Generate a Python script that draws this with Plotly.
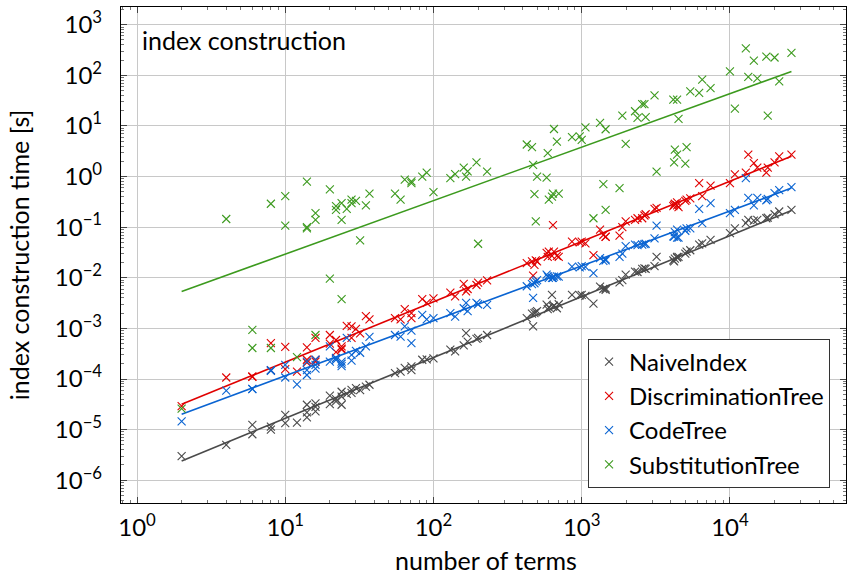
import numpy as np
import plotly.graph_objects as go

terms = [2, 4, 6, 6, 8, 8, 10, 10, 12, 14,
         14, 14, 16, 16, 16, 20, 20, 22, 22, 24,
         24, 24, 26, 28, 28, 30, 32, 35, 37, 55,
         60, 64, 71, 71, 84, 90, 100, 130, 140, 160,
         166, 170, 195, 200, 230, 426, 462, 470, 480, 490,
         500, 580, 590, 600, 630, 640, 650, 680, 700, 860,
         970, 1000, 1060, 1200, 1330, 1400, 1450, 1450, 1800, 1880,
         1980, 2290, 2380, 2560, 2650, 2700, 3100, 3200, 4150, 4200,
         4250, 4400, 4400, 4500, 5000, 5100, 5400, 6200, 6500, 7400,
         10000, 10800, 12800, 13300, 14500, 15300, 17600, 18000, 20000, 21500, 26000]

naive_index = [3.0e-6, 5.0e-6, 1.24e-5, 8.1e-6, 1.15e-5, 1.0e-5, 1.95e-5, 1.35e-5, 1.38e-5, 3.1e-5,
               1.74e-5, 2.2e-5, 3.3e-5, 2.3e-5, 2.8e-5, 4.7e-5, 3.2e-5, 4.0e-5, 3.6e-5, 3.1e-5,
               5.6e-5, 4.5e-5, 5.1e-5, 6.1e-5, 5.3e-5, 6.6e-5, 6.0e-5, 7.1e-5, 7.7e-5, 1.3e-4,
               1.4e-4, 1.66e-4, 1.5e-4, 1.77e-4, 2.4e-4, 2.45e-4, 2.56e-4, 3.8e-4, 3.5e-4, 4.6e-4,
               8.1e-4, 5.5e-4, 6.2e-4, 6.5e-4, 7.4e-4, 1.6e-3, 1.95e-3, 1.1e-3, 2.0e-3, 2.1e-3,
               2.2e-3, 2.95e-3, 2.4e-3, 2.6e-3, 4.6e-3, 2.7e-3, 2.8e-3, 2.5e-3, 3.0e-3, 4.6e-3,
               4.5e-3, 4.6e-3, 4.4e-3, 3.1e-3, 6.7e-3, 6.0e-3, 6.2e-3, 5.8e-3, 8.1e-3, 9.0e-3,
               1.15e-2, 1.32e-2, 1.3e-2, 1.5e-2, 1.54e-2, 1.5e-2, 1.7e-2, 2.6e-2, 2.2e-2, 2.1e-2,
               2.4e-2, 2.6e-2, 2.5e-2, 2.6e-2, 3.0e-2, 3.3e-2, 3.5e-2, 4.5e-2, 4.8e-2, 5.6e-2,
               7.6e-2, 0.095, 0.12, 0.14, 0.135, 0.14, 0.15, 0.155, 0.18, 0.204, 0.22]

discrimination_tree = [2.9e-5, 1.07e-4, 1.12e-4, 1.1e-4, 5.1e-4, 1.48e-4, 4.3e-4, 1.57e-4, 1.4e-4, 4.2e-4,
                       2.1e-4, 2.4e-4, 6.5e-4, 2.4e-4, 2.2e-4, 7.4e-4, 5.0e-4, 5.9e-4, 3.4e-4, 4.4e-4,
                       3.8e-4, 4.0e-4, 1.12e-3, 1.1e-3, 6.5e-4, 9.8e-4, 8.0e-4, 1.74e-3, 1.5e-3, 1.6e-3,
                       1.5e-3, 2.4e-3, 1.6e-3, 2.0e-3, 3.8e-3, 3.2e-3, 3.9e-3, 5.1e-3, 4.3e-3, 7.6e-3,
                       5.4e-3, 6.0e-3, 7.2e-3, 8.0e-3, 8.9e-3, 1.95e-2, 2.1e-2, 1.1e-2, 1.8e-2, 2.2e-2,
                       2.1e-2, 3.1e-2, 2.6e-2, 3.3e-2, 2.7e-2, 0.11, 3.3e-2, 2.7e-2, 2.6e-2, 5.2e-2,
                       5.0e-2, 5.2e-2, 4.8e-2, 2.8e-2, 8.9e-2, 7.0e-2, 6.5e-2, 6.4e-2, 6.8e-2, 0.10,
                       0.13, 0.14, 0.15, 0.15, 0.17, 0.18, 0.23, 0.24, 0.26, 0.275,
                       0.29, 0.31, 0.27, 0.25, 0.33, 0.35, 0.37, 0.74, 0.41, 0.66,
                       0.74, 1.1, 1.2, 2.7, 1.85, 1.5, 1.2, 1.5, 1.9, 2.5, 2.7]

code_tree = [1.45e-5, 5.9e-5, 6.3e-5, 6.4e-5, 1.5e-4, 1.45e-4, 1.07e-4, 1.9e-4, 7.8e-5, 1.2e-4,
             2.2e-4, 1.5e-4, 1.6e-4, 2.4e-4, 1.9e-4, 4.4e-4, 2.2e-4, 2.6e-4, 2.4e-4, 2.0e-4,
             1.8e-4, 2.2e-4, 6.5e-4, 2.3e-4, 3.0e-4, 3.6e-4, 3.3e-4, 4.4e-4, 6.8e-4, 7.4e-4,
             6.9e-4, 1.1e-3, 5.1e-4, 9.0e-4, 1.85e-3, 1.5e-3, 1.6e-3, 2.0e-3, 1.7e-3, 2.5e-3,
             3.2e-3, 2.2e-3, 3.2e-3, 3.0e-3, 2.9e-3, 6.8e-3, 7.5e-3, 4.0e-3, 7.8e-3, 8.5e-3,
             9.0e-3, 1.15e-2, 1.07e-2, 1.0e-2, 1.0e-2, 1.0e-2, 1.05e-2, 1.07e-2, 1.05e-2, 1.66e-2,
             1.6e-2, 1.7e-2, 1.65e-2, 1.23e-2, 2.45e-2, 2.15e-2, 2.3e-2, 2.2e-2, 2.6e-2, 3.0e-2,
             4.2e-2, 4.5e-2, 4.4e-2, 4.5e-2, 4.6e-2, 4.7e-2, 6.0e-2, 0.107, 6.6e-2, 6.5e-2,
             8.0e-2, 8.9e-2, 6.2e-2, 6.2e-2, 8.5e-2, 9.5e-2, 9.5e-2, 0.23, 0.12, 0.30,
             0.19, 0.22, 0.93, 0.38, 0.27, 0.38, 0.34, 0.36, 0.47, 0.54, 0.62]

substitution_tree = [2.6e-5, 0.145, 9.3e-4, 4.1e-4, 0.29, 4.1e-4, 0.41, 0.107, 2.7e-4, 0.79,
                     0.10, 0.095, 0.19, 7.4e-4, 0.14, 0.56, 9.6e-3, 0.26, 0.22, 0.30,
                     3.8e-3, 0.14, 0.23, 0.35, 0.30, 0.33, 0.055, 0.27, 0.46, 0.46,
                     0.35, 0.87, 0.74, 0.80, 1.0, 1.2, 0.49, 0.93, 1.12, 1.5,
                     1.0, 1.26, 1.9, 0.047, 1.25, 4.3, 3.8, 1.7, 0.45, 0.13,
                     1.0, 0.95, 2.9, 0.35, 0.40, 0.46, 8.7, 4.9, 0.46, 6.0,
                     6.2, 5.3, 9.4, 0.15, 11.5, 0.71, 8.6, 0.22, 0.59, 16,
                     4.4, 19.5, 14.5, 27, 27, 15, 40, 1.25, 33, 1.9,
                     3.4, 33, 2.7, 13.8, 1.8, 3.8, 48, 45, 82, 56,
                     120, 22, 340, 93, 195, 87, 235, 16, 225, 76, 277]

series_names = ["NaiveIndex", "DiscriminationTree", "CodeTree", "SubstitutionTree"]
series_values = [naive_index, discrimination_tree, code_tree, substitution_tree]
series_colors = ["#4a4a4a", "#e00000", "#0a64d2", "#3c9a1e"]
# power-law fits: log10(t) = intercept + slope * log10(n)
fit_slopes = [1.203, 1.191, 1.086, 1.057]
fit_intercepts = [-5.981, -4.857, -5.023, -2.59]

x_tick_exponents = [0, 1, 2, 3, 4]
y_tick_exponents = [-6, -5, -4, -3, -2, -1, 0, 1, 2, 3]


def power_label(k):
    return "10<sup>" + str(k).replace("-", "\u2212") + "</sup>"


FONT = "Lato"
TICK_SIZE = 24
TEXT_SIZE = 25
LEGEND_SIZE = 24
fig = go.Figure()

xfit = np.logspace(np.log10(min(terms)), np.log10(max(terms)), 20)
for name, vals, col, s, b in zip(series_names, series_values, series_colors, fit_slopes, fit_intercepts):
    fig.add_trace(go.Scatter(
        x=terms, y=vals, mode="markers", name=name,
        marker=dict(symbol="x-thin", size=8, color=col, line=dict(width=1.1, color=col)),
    ))
    fig.add_trace(go.Scatter(
        x=xfit, y=10 ** (b + s * np.log10(xfit)), mode="lines", showlegend=False,
        line=dict(color=col, width=1.6), hoverinfo="skip",
    ))

axis_common = dict(
    type="log", showline=True, linecolor="black", linewidth=1.2, mirror="allticks",
    ticks="inside", ticklen=6, tickcolor="#444", tickwidth=1,
    showgrid=True, gridcolor="#c8c8c8", gridwidth=1, zeroline=False,
    tickmode="array",
    minor=dict(ticks="inside", ticklen=3, tickcolor="#777", showgrid=False, dtick="D1"),
    tickfont=dict(family=FONT, size=TICK_SIZE, color="black"),
)

fig.update_xaxes(**axis_common, range=[-0.108, 4.783],
                 tickvals=[10 ** k for k in x_tick_exponents],
                 ticktext=[power_label(k) for k in x_tick_exponents],
                 ticklabelstandoff=3)
fig.update_yaxes(**axis_common, range=[-6.45, 3.35],
                 tickvals=[10.0 ** k for k in y_tick_exponents],
                 ticktext=[power_label(k) for k in y_tick_exponents],
                 title=dict(text="index construction time [s]", font=dict(family=FONT, size=TEXT_SIZE, color="black"), standoff=18),
                 ticklabelstandoff=13)

fig.add_annotation(text="number of terms", xref="paper", yref="paper", x=0.503, y=-0.149,
                   xanchor="center", yanchor="bottom", showarrow=False,
                   font=dict(family=FONT, size=TEXT_SIZE, color="black"))

fig.add_annotation(text="index construction", xref="paper", yref="paper", x=0.026, y=0.933,
                   xanchor="left", yanchor="middle", showarrow=False,
                   font=dict(family=FONT, size=TEXT_SIZE, color="black"))

fig.update_layout(
    width=851, height=577,
    margin=dict(l=121, r=5, t=7, b=74, autoexpand=False),
    plot_bgcolor="white", paper_bgcolor="white",
    font=dict(family=FONT, size=TEXT_SIZE, color="black"),
    legend=dict(x=0.978, y=0.031, xanchor="right", yanchor="bottom",
                bordercolor="#333", borderwidth=1, bgcolor="white",
                font=dict(family=FONT, size=LEGEND_SIZE, color="black"),
                itemwidth=30, tracegroupgap=0),
    showlegend=True,
)

fig.write_html("out.html")
